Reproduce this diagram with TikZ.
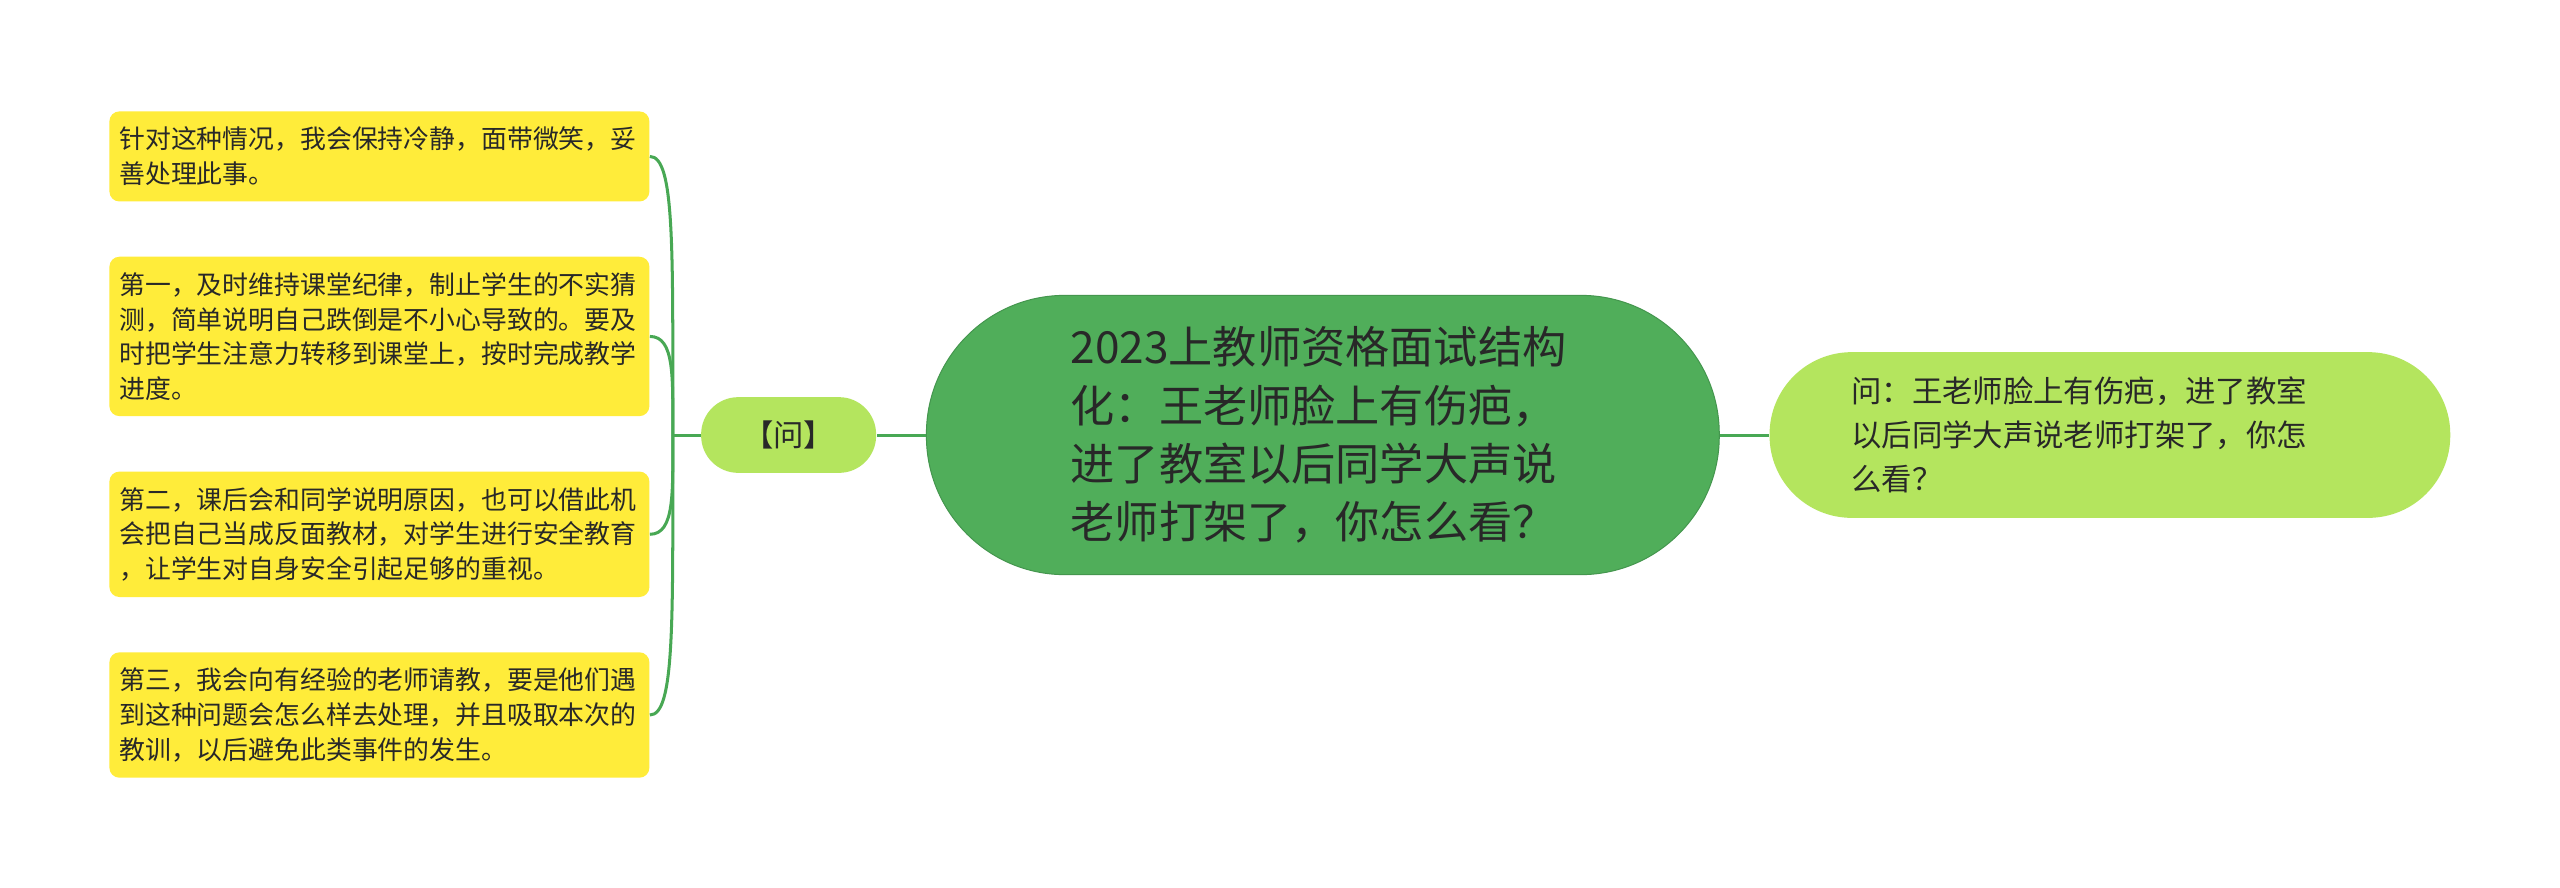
\documentclass[tikz,border=0pt]{standalone}
\usepackage{fontspec}
\setmainfont{Noto Sans CJK SC}
\usepackage{xcolor}
\usepackage{tikz}
\usetikzlibrary{positioning}
\definecolor{rootgreen}{RGB}{80,174,90}
\definecolor{rootedge}{RGB}{68,150,78}
\definecolor{subgreen}{RGB}{180,229,94}
\definecolor{leafyellow}{RGB}{255,236,58}
\definecolor{linkgreen}{RGB}{72,168,84}
\definecolor{txt}{RGB}{40,40,40}

\begin{document}
\begin{tikzpicture}[node distance=7mm, text=txt]
\tikzstyle{root}=[draw=rootedge, fill=rootgreen, rounded corners=19.4mm, minimum width=111mm, minimum height=39.1mm, text width=70.6mm, align=left, font=\fontsize{17.6}{23.2}\selectfont]
\tikzstyle{sub}=[fill=subgreen, rounded corners=5.2mm, minimum width=24.5mm, minimum height=10.6mm, font=\fontsize{12.1}{17.5}\selectfont]
\tikzstyle{ask}=[fill=subgreen, rounded corners=11.5mm, minimum width=95.3mm, minimum height=23.2mm, text width=72.4mm, align=left, font=\fontsize{12.1}{17.5}\selectfont]
\tikzstyle{leaf}=[fill=leafyellow, rounded corners=1.4mm, text width=72.8mm, inner xsep=1.4mm, inner ysep=2.2mm, align=left, font=\fontsize{10.3}{13.8}\selectfont]
\tikzstyle{link}=[draw=linkgreen, line width=1.2pt]
\path[fill=white, use as bounding box] (-185.2mm,-63.4mm) rectangle (173.2mm,60.9mm);

\node[root] (root) at (0,0) {2023上教师资格面试结构\\化：王老师脸上有伤疤，\\进了教室以后同学大声说\\老师打架了，你怎么看？};
\node[ask, right=6.9mm of root] (ques) {问：王老师脸上有伤疤，进了教室\\以后同学大声说老师打架了，你怎\\么看？};
\node[sub, left=6.9mm of root] (wen) {【问】};
\coordinate[left=3.9mm of wen] (hub);

\node[leaf, left=7.1mm of wen, yshift=39mm] (a1) {针对这种情况，我会保持冷静，面带微笑，妥\\善处理此事。};
\node[leaf, left=7.1mm of wen, yshift=13.8mm] (a2) {第一，及时维持课堂纪律，制止学生的不实猜\\测，简单说明自己跌倒是不小心导致的。要及\\时把学生注意力转移到课堂上，按时完成教学\\进度。};
\node[leaf, left=7.1mm of wen, yshift=-13.9mm] (a3) {第二，课后会和同学说明原因，也可以借此机\\会把自己当成反面教材，对学生进行安全教育\\，让学生对自身安全引起足够的重视。};
\node[leaf, left=7.1mm of wen, yshift=-39.2mm] (a4) {第三，我会向有经验的老师请教，要是他们遇\\到这种问题会怎么样去处理，并且吸取本次的\\教训，以后避免此类事件的发生。};

\draw[link] (root) -- (ques); \draw[link] (root) -- (wen); \draw[link] (hub) -- (wen);
\draw[link] (a1.east) .. controls +(3.5mm,0) and +(0,26mm) .. (hub);
\draw[link] (a2.east) .. controls +(3.5mm,0) and +(0,8mm) .. (hub);
\draw[link] (a3.east) .. controls +(3.5mm,0) and +(0,-8mm) .. (hub);
\draw[link] (a4.east) .. controls +(3.5mm,0) and +(0,-26mm) .. (hub);
\end{tikzpicture}
\end{document}
